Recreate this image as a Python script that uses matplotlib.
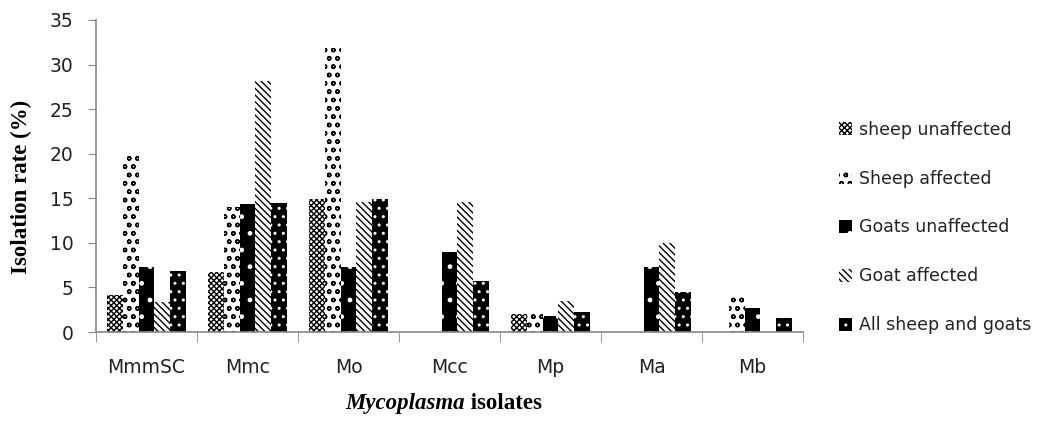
import matplotlib
matplotlib.use("Agg")
import matplotlib.pyplot as plt
import numpy as np

plt.rcParams["hatch.linewidth"] = 1.0

# Dados
isolates = ["MmmSC", "Mmc", "Mo", "Mcc", "Mp", "Ma", "Mb"]
series = ["sheep unaffected", "Sheep affected", "Goats unaffected",
          "Goat affected", "All sheep and goats"]
sheep_unaffected = [4.1, 6.7, 14.9, 0, 2.0, 0, 0]
sheep_affected = [20.0, 14.0, 31.9, 0, 2.0, 0, 4.1]
goats_unaffected = [7.3, 14.4, 7.3, 9.0, 1.8, 7.3, 2.7]
goat_affected = [3.4, 28.2, 14.6, 14.6, 3.5, 10.0, 0]
all_sheep_goats = [6.8, 14.5, 14.9, 5.7, 2.2, 4.5, 1.6]
values = [sheep_unaffected, sheep_affected, goats_unaffected,
          goat_affected, all_sheep_goats]

# estilo de cada série (face, cor da hachura, hachura)
styles = [
    ("white", "black", "xxxxxx"),
    ("white", "black", "oo"),
    ("black", "white", "."),
    ("white", "black", "\\\\\\\\\\"),
    ("black", "white", ".."),
]

fig = plt.figure(figsize=(10.43, 4.29), dpi=100)
ax = fig.add_axes([0.092, 0.2261, 0.678, 0.7273])

x = np.arange(len(isolates))
w = 0.156
for i, (vals, name, (fc, hc, h)) in enumerate(zip(values, series, styles)):
    ax.bar(x + (i - 2) * w, vals, w, facecolor=fc, edgecolor=hc,
           hatch=h, linewidth=0, label=name)

ax.set_xlim(-0.5, len(isolates) - 0.5)
ax.set_ylim(0, 35)
ax.set_yticks(np.arange(0, 36, 5))
ax.set_xticks(x)
ax.set_xticklabels(isolates)
ax.set_xticks(np.arange(-0.5, len(isolates)), minor=True)
ax.tick_params(axis="x", which="major", length=0, pad=19)
ax.tick_params(axis="x", which="minor", length=7, color="#868686", direction="out")
ax.tick_params(axis="y", length=6, color="#868686", direction="out", pad=10)
for lab in ax.get_xticklabels() + ax.get_yticklabels():
    lab.set_fontsize(13.5)
    lab.set_color("#222222")

for s in ["top", "right"]:
    ax.spines[s].set_visible(False)
for s in ["left", "bottom"]:
    ax.spines[s].set_color("#868686")
    ax.spines[s].set_linewidth(1.2)

fig.text(0.021, 0.565, "Isolation rate (%)", family="Liberation Serif",
         fontweight="bold", fontsize=16.5, rotation=90, ha="center", va="center")

fig.text(0.446, 0.047, "Mycoplasma", family="Liberation Serif",
         fontweight="bold", style="italic", fontsize=16.5, ha="right", va="baseline")
fig.text(0.446, 0.047, " isolates", family="Liberation Serif",
         fontweight="bold", fontsize=16.5, ha="left", va="baseline")

leg = ax.legend(loc="center left", bbox_to_anchor=(1.038, 0.335), frameon=False,
                borderpad=0, handlelength=0.75, handleheight=0.75, handletextpad=0.45,
                labelspacing=1.78, prop={"size": 12.5})
for t in leg.get_texts():
    t.set_color("#222222")

fig.savefig("out.png", dpi=100)
